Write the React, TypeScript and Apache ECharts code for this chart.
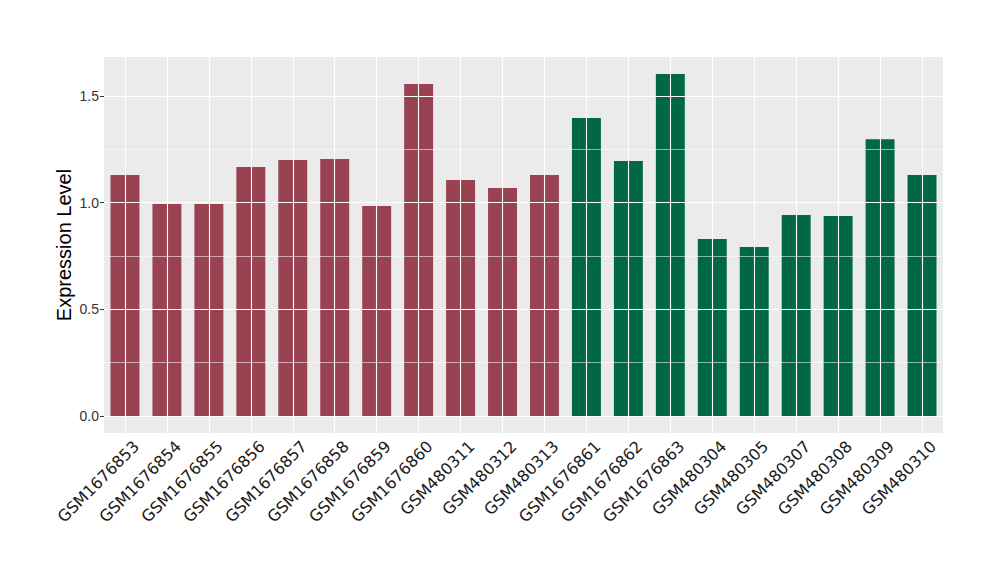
import React, { useEffect, useRef } from "react";
import * as echarts from "echarts";

const categories = [
  "GSM1676853", "GSM1676854", "GSM1676855", "GSM1676856", "GSM1676857",
  "GSM1676858", "GSM1676859", "GSM1676860", "GSM480311", "GSM480312",
  "GSM480313", "GSM1676861", "GSM1676862", "GSM1676863", "GSM480304",
  "GSM480305", "GSM480307", "GSM480308", "GSM480309", "GSM480310",
];
const values = [
  1.130, 0.994, 0.994, 1.167, 1.200, 1.205, 0.984, 1.556, 1.106, 1.069,
  1.130, 1.397, 1.195, 1.603, 0.830, 0.792, 0.942, 0.938, 1.298, 1.130,
];
const groups = [
  "A", "A", "A", "A", "A", "A", "A", "A", "A", "A",
  "A", "B", "B", "B", "B", "B", "B", "B", "B", "B",
];
const groupColors: Record<string, string> = { A: "#994251", B: "#006845" };
const majorTicks = [0, 0.5, 1.0, 1.5];
const minorTicks = [0.25, 0.75, 1.25];

export default function App() {
  const ref = useRef<HTMLDivElement>(null);
  useEffect(() => {
    if (!ref.current) return;
    const chart = echarts.init(ref.current, undefined, { renderer: "svg" });
    const maxV = Math.max(...values);
    const yMin = -0.05 * maxV;
    const yMax = 1.05 * maxV;
    const gridLines: any[] = [];
    majorTicks.forEach((v) =>
      gridLines.push({ yAxis: v, lineStyle: { color: "#FFFFFF", width: 1.1, type: "solid" } })
    );
    minorTicks.forEach((v) =>
      gridLines.push({ yAxis: v, lineStyle: { color: "#FFFFFF", width: 0.55, type: "solid" } })
    );
    categories.forEach((c) =>
      gridLines.push({ xAxis: c, lineStyle: { color: "#FFFFFF", width: 1.1, type: "solid" } })
    );
    chart.setOption({
      animation: false,
      grid: {
        left: 104,
        right: 57,
        top: 57,
        bottom: 147,
        show: true,
        backgroundColor: "#EBEBEB",
        borderWidth: 0,
      },
      xAxis: {
        type: "category",
        data: categories,
        axisLine: { show: false },
        axisTick: { show: true, alignWithLabel: true, length: 4, lineStyle: { color: "#333333", width: 1 } },
        axisLabel: {
          rotate: 45,
          interval: 0,
          margin: 5,
          verticalAlign: "top",
          padding: [4, -4, 0, 0],
          color: "#1A1A1A",
          fontFamily: "DejaVu Sans",
          fontSize: 16,
        },
        splitLine: { show: false },
      },
      yAxis: {
        type: "value",
        min: yMin,
        max: yMax,
        name: "Expression Level",
        nameLocation: "middle",
        nameGap: 30,
        nameMoveOverlap: false,
        nameTextStyle: { fontFamily: "Liberation Sans", fontSize: 20, color: "#000000" },
        axisLine: { show: false },
        axisTick: { show: true, length: 4, customValues: majorTicks, lineStyle: { color: "#333333", width: 1 } },
        axisLabel: {
          customValues: majorTicks,
          formatter: (v: number) => v.toFixed(1),
          color: "#333333",
          fontFamily: "Liberation Sans",
          fontSize: 14,
          margin: 5,
        },
        splitLine: { show: false },
      },
      series: [
        {
          type: "line",
          data: [],
          z: 1,
          silent: true,
          markLine: {
            silent: true,
            symbol: "none",
            label: { show: false },
            animation: false,
            data: gridLines,
          },
        },
        {
          type: "bar",
          z: 3,
          barWidth: "69%",
          data: values.map((v, i) => ({ value: v, itemStyle: { color: groupColors[groups[i]] } })),
        },
      ],
    });
    return () => chart.dispose();
  }, []);
  return <div ref={ref} style={{ width: 1000, height: 580, margin: -8 }} />;
}
